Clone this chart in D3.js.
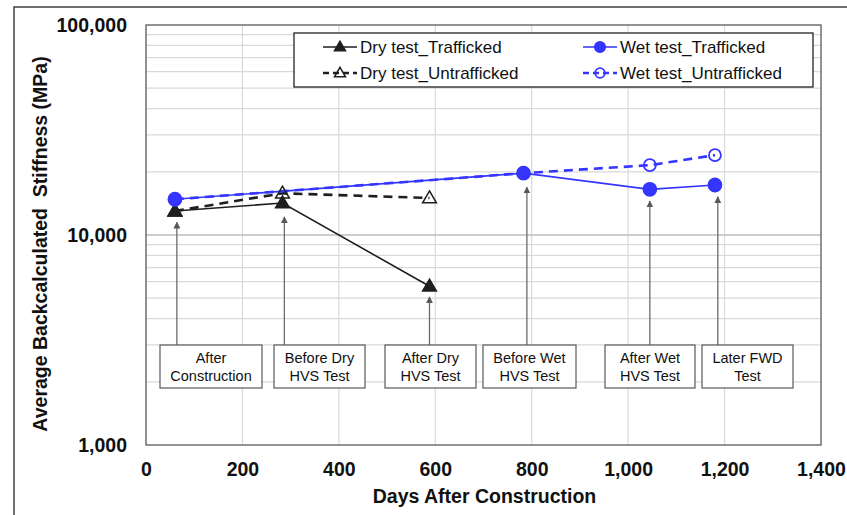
<!DOCTYPE html>
<html><head><meta charset="utf-8">
<script src="https://cdn.jsdelivr.net/npm/d3@7"></script>
<style>body{margin:0;background:#fff}svg{display:block;font-family:Arial,"Liberation Sans",sans-serif}</style>
</head><body>
<svg id="c" width="847" height="515"></svg>
<script>
// ---- data ----
const xTicks = [0, 200, 400, 600, 800, 1000, 1200, 1400];
const yTicks = [1000, 10000, 100000];
const dryTraffDays = [60, 283, 588];
const dryTraffVals = [13000, 14200, 5700];
const dryUntrDays = [60, 283, 588];
const dryUntrVals = [13000, 15800, 15000];
const wetTraffDays = [60, 783, 1045, 1180];
const wetTraffVals = [14800, 19700, 16500, 17300];
const wetUntrDays = [60, 783, 1045, 1180];
const wetUntrVals = [14800, 19700, 21500, 24000];
const eventLabels = [["After", "Construction"], ["Before Dry", "HVS Test"], ["After Dry", "HVS Test"], ["Before Wet", "HVS Test"], ["After Wet", "HVS Test"], ["Later FWD", "Test"]];
const eventDays = [64, 287, 588, 790, 1045, 1186];
const eventArrowTo = [11500, 12200, 5070, 16900, 14500, 15200];
const legendLabels = ["Dry test_Trafficked", "Dry test_Untrafficked", "Wet test_Trafficked", "Wet test_Untrafficked"];

// ---- layout ----
const svg = d3.select("#c");
const L = 146, R = 821, T = 25, B = 445;
const x = d3.scaleLinear().domain([0, 1400]).range([L, R]);
const y = d3.scaleLog().domain([1000, 100000]).range([B, T]);
const fmt = d3.format(",");
const blue = "#3535ff", black = "#1f1f1f";

// outer frame
svg.append("rect").attr("x", 14).attr("y", 7).attr("width", 900).attr("height", 600)
  .attr("fill", "none").attr("stroke", "#404040").attr("stroke-width", 1.5);

// grid
const g = svg.append("g");
const minor = [];
for (let d = 1000; d < 100000; d *= 10) for (let k = 2; k <= 9; k++) minor.push(d * k);
g.selectAll(".hm").data(minor).enter().append("line")
  .attr("x1", L).attr("x2", R).attr("y1", d => y(d)).attr("y2", d => y(d))
  .attr("stroke", "#d9d9d9").attr("stroke-width", 1.2);
g.selectAll(".vg").data(xTicks.slice(1, -1)).enter().append("line")
  .attr("y1", T).attr("y2", B).attr("x1", d => x(d)).attr("x2", d => x(d))
  .attr("stroke", "#d9d9d9").attr("stroke-width", 1.2);
g.append("line").attr("x1", L).attr("x2", R).attr("y1", y(10000)).attr("y2", y(10000))
  .attr("stroke", "#bcbcbc").attr("stroke-width", 1.5);

// plot border
svg.append("rect").attr("x", L).attr("y", T).attr("width", R - L).attr("height", B - T)
  .attr("fill", "none").attr("stroke", "#595959").attr("stroke-width", 1.3);

// axes via d3 axis (labels only)
const xAxis = svg.append("g").attr("transform", `translate(0,${B})`)
  .call(d3.axisBottom(x).tickValues(xTicks).tickFormat(fmt).tickSize(0).tickPadding(17));
const yAxis = svg.append("g").attr("transform", `translate(${L},0)`)
  .call(d3.axisLeft(y).tickValues(yTicks).tickFormat(fmt).tickSize(0).tickPadding(19));
[xAxis, yAxis].forEach(a => {
  a.select(".domain").remove();
  a.selectAll("text").attr("font-size", 19.5).attr("font-weight", "bold").attr("fill", "#111")
    .attr("font-family", "Arial, 'Liberation Sans', sans-serif");
});

// axis titles
svg.append("text").attr("x", (L + R) / 2 + 1).attr("y", 503).attr("text-anchor", "middle")
  .attr("font-size", 19.5).attr("font-weight", "bold").attr("fill", "#111")
  .text("Days After Construction");
svg.append("text").attr("transform", `translate(47,${(T + B) / 2 + 9}) rotate(-90)`)
  .attr("text-anchor", "middle").attr("font-size", 19.5).attr("font-weight", "bold").attr("fill", "#111")
  .attr("xml:space", "preserve").style("white-space", "pre")
  .text("Average Backcalculated  Stiffness (MPa)");

// annotations (arrows + boxes)
svg.append("defs").append("marker").attr("id", "ah").attr("viewBox", "0 0 10 10")
  .attr("refX", 9).attr("refY", 5).attr("markerWidth", 7).attr("markerHeight", 7)
  .attr("markerUnits", "userSpaceOnUse").attr("orient", "auto")
  .append("path").attr("d", "M0,0 L10,5 L0,10 z").attr("fill", "#595959");
const boxLeft = [160, 274, 385, 483, 605, 702];
const boxW = [102, 91, 91, 93, 90, 91];
const boxTop = 345, boxH = 43;
const ann = svg.append("g");
eventDays.forEach((d, i) => {
  ann.append("line").attr("x1", x(d)).attr("x2", x(d)).attr("y1", boxTop).attr("y2", y(eventArrowTo[i]))
    .attr("stroke", "#6b6b6b").attr("stroke-width", 1.3).attr("marker-end", "url(#ah)");
  ann.append("rect").attr("x", boxLeft[i]).attr("y", boxTop).attr("width", boxW[i]).attr("height", boxH)
    .attr("fill", "#fff").attr("stroke", "#595959").attr("stroke-width", 1.2);
  eventLabels[i].forEach((t, j) => {
    ann.append("text").attr("x", boxLeft[i] + boxW[i] / 2).attr("y", boxTop + 18 + j * 17.5)
      .attr("text-anchor", "middle").attr("font-size", 14.5).attr("fill", "#111").text(t);
  });
});

// series
const line = d3.line().x(d => x(d[0])).y(d => y(d[1]));
const zip = (a, b) => a.map((v, i) => [v, b[i]]);
const series = [
  {pts: zip(dryTraffDays, dryTraffVals), color: black, dash: null, w: 1.6, marker: "tri", fill: true},
  {pts: zip(dryUntrDays, dryUntrVals), color: black, dash: "9,6", w: 2.6, marker: "tri", fill: false},
  {pts: zip(wetTraffDays, wetTraffVals), color: blue, dash: null, w: 1.6, marker: "circ", fill: true},
  {pts: zip(wetUntrDays, wetUntrVals), color: blue, dash: "9,6", w: 2.6, marker: "circ", fill: false},
];
const triPath = s => `M0,${-s * 0.62} L${s * 0.6},${s * 0.42} L${-s * 0.6},${s * 0.42} Z`;
function drawMarker(sel, cx, cy, s, small) {
  const k = small ? 0.8 : 1;
  if (s.marker === "tri") {
    sel.append("path").attr("d", triPath(11.5 * k)).attr("transform", `translate(${cx},${cy})`)
      .attr("fill", s.fill ? black : "none").attr("stroke", black).attr("stroke-width", 1.5);
  } else {
    sel.append("circle").attr("cx", cx).attr("cy", cy).attr("r", (s.fill ? 6.5 : 6) * k)
      .attr("fill", s.fill ? blue : "none").attr("stroke", blue).attr("stroke-width", 1.8);
  }
}
const sg = svg.append("g");
series.forEach(s => {
  sg.append("path").datum(s.pts).attr("d", line).attr("fill", "none").attr("stroke", s.color)
    .attr("stroke-width", s.w).attr("stroke-dasharray", s.dash);
});
series.forEach(s => s.pts.forEach(p => drawMarker(sg, x(p[0]), y(p[1]), s, false)));

// legend
const lg = svg.append("g");
lg.append("rect").attr("x", 294).attr("y", 33).attr("width", 519).attr("height", 54)
  .attr("fill", "#fff").attr("stroke", "#111").attr("stroke-width", 1.2);
const legPos = [[323, 47], [323, 73], [583, 47], [583, 73]];
series.forEach((s, i) => {
  const [lx, ly] = legPos[i];
  lg.append("line").attr("x1", lx).attr("x2", lx + 34).attr("y1", ly).attr("y2", ly)
    .attr("stroke", s.color).attr("stroke-width", s.dash ? 2.4 : 1.6).attr("stroke-dasharray", s.dash ? "6,4" : null);
  drawMarker(lg, lx + 17, ly, s, true);
  lg.append("text").attr("x", lx + 37).attr("y", ly + 6).attr("font-size", 17).attr("fill", "#111")
    .text(legendLabels[i]);
});
</script>
</body></html>
